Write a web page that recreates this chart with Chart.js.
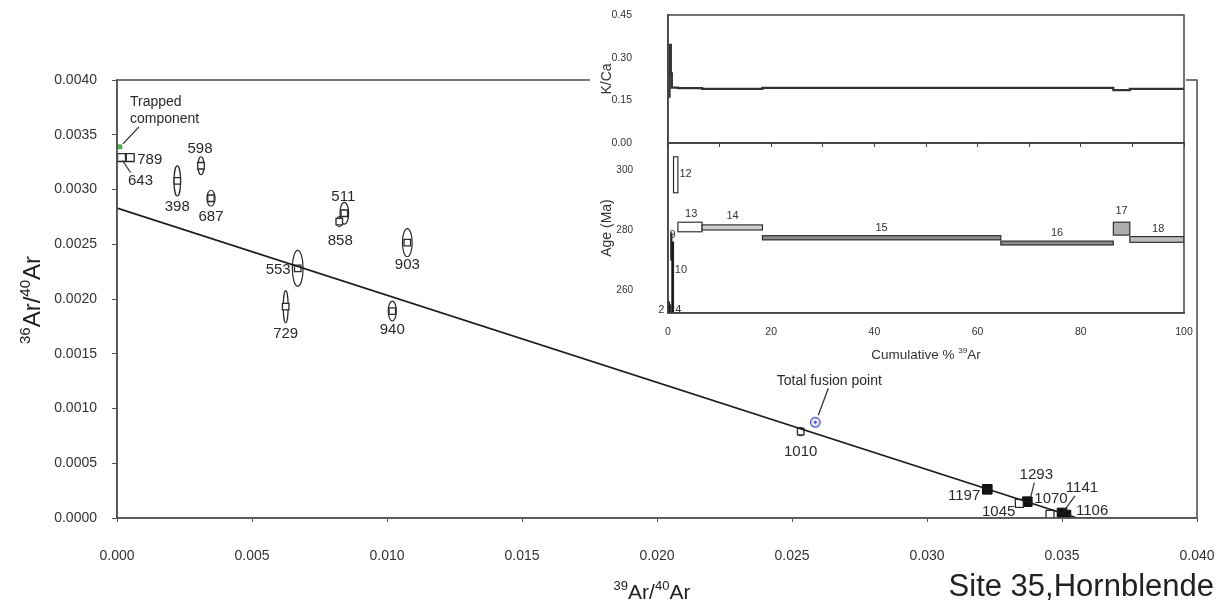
<!DOCTYPE html>
<html><head><meta charset="utf-8">
<script src="https://cdn.jsdelivr.net/npm/chart.js@4.4.1/dist/chart.umd.min.js"></script>
<style>
html,body{margin:0;padding:0;background:#fff;}
#wrap{position:relative;width:1219px;height:608px;overflow:hidden;background:#fff;}
#main{position:absolute;left:0;top:0;}
#insetBg{position:absolute;left:590px;top:0;width:596px;height:360px;background:#fff;}
#kca{position:absolute;left:590px;top:0;}
#age{position:absolute;left:590px;top:140px;}
</style></head>
<body><div id="wrap">
<canvas id="main" width="1219" height="608"></canvas>
<div id="insetBg"></div>
<canvas id="kca" width="596" height="150"></canvas>
<canvas id="age" width="612" height="225"></canvas>
</div>
<script>
// ===== DATA: isochron (main chart) =====
const stepTemps = ['643','789','598','398','687','511','858','903','553','729','940','1010','1197','1045','1293','1070','1141','1106'];
const ar39_40 = [0.000167,0.000490,0.003111,0.002233,0.003481,0.008419,0.008233,0.010752,0.006693,0.006248,0.010196,0.025322,0.032233,0.033419,0.033715,0.034556,0.035000,0.035148];
const ar36_40 = [0.003292,0.003292,0.003217,0.003078,0.002920,0.002783,0.002706,0.002514,0.002280,0.001930,0.001890,0.000788,0.000262,0.000134,0.000149,0.000034,0.000046,0.000027];
const err39 = [0,0,0.00011,0.00012,0.00015,0.00016,0.00011,0.00018,0.00020,0.00009,0.00015,0.00011,0,0,0,0,0,0];
const err36 = [0,0,0.000082,0.000137,0.000073,0.000100,0.000046,0.000128,0.000164,0.000146,0.000091,0.000037,0,0,0,0,0,0];
const filledStep = [false,false,false,false,false,false,false,false,false,false,false,false,true,false,true,false,true,true];
const totalFusionX = [0.025863];
const totalFusionY = [0.000874];
const trappedX = [0.000110];
const trappedY = [0.003390];
const isochronX = [0, 0.03556];
const isochronY = [0.00283, 0];
const mainXTicks = ['0.000','0.005','0.010','0.015','0.020','0.025','0.030','0.035','0.040'];
const mainYTicks = ['0.0000','0.0005','0.0010','0.0015','0.0020','0.0025','0.0030','0.0035','0.0040'];

// ===== DATA: inset spectra =====
const specSteps = ['2','4','9','10','12','13','14','15','16','17','18'];
const cumStart = [0,0.3,0.55,0.75,1.07,1.92,6.6,18.3,64.5,86.3,89.5];
const cumEnd   = [0.3,0.55,0.75,1.07,1.92,6.6,18.3,64.5,86.3,89.5,100];
const ageLow   = [245,245,270,245,292.4,279.4,280.0,276.7,275.0,278.3,275.9];
const ageHigh  = [256,255,279,276,304.4,282.6,281.7,278.1,276.3,282.6,277.8];
const kcaValue = [0.163,0.345,0.245,0.195,0.195,0.193,0.190,0.194,0.194,0.186,0.190];
const insetXTicks = ['0','20','40','60','80','100'];
const kcaTicks = ['0.00','0.15','0.30','0.45'];
const ageTicks = ['260','280','300'];

// ===== STYLE (not data) =====
const FONT = '"Liberation Sans", Arial, Helvetica, sans-serif';
Chart.defaults.font.family = FONT;
const INK = '#2a2a2a';
const AXIS = '#555';
const labelStyle = {
  '643': {dx:19, dy:23, leader:[1,3,9,15]},
  '789': {dx:7, dy:2, align:'left'},
  '598': {dx:-1, dy:-17},
  '398': {dx:0, dy:26},
  '687': {dx:0, dy:19},
  '511': {dx:-1, dy:-16},
  '858': {dx:1, dy:19},
  '903': {dx:0, dy:22},
  '553': {dx:-7, dy:2, align:'right'},
  '729': {dx:0, dy:27},
  '940': {dx:0, dy:19},
  '1010': {dx:0, dy:20},
  '1197': {dx:-7, dy:7, align:'right'},
  '1045': {dx:-4, dy:9, align:'right'},
  '1293': {dx:9, dy:-27, leader:[3,-3,7,-19]},
  '1070': {dx:1, dy:-15},
  '1141': {dx:20, dy:-25, leader:[2,-2,13,-17]},
  '1106': {dx:10, dy:-4, align:'left'}
};
const boxFill = ['#111','#111','#111','#111','#fff','#fff','#cfcfcf','#8c8c8c','#8c8c8c','#adadad','#bdbdbd'];
const specLabelPos = {
  '2':[-1.3,253.5],'4':[2.0,253.5],'9':[0.9,278.2],'10':[2.5,266.7],'12':[3.4,298.7],
  '13':[4.5,285.2],'14':[12.5,284.6],'15':[41.4,280.8],'16':[75.4,279.1],'17':[87.9,286.2],'18':[95,280.4]
};

// fixes a scale's box size and removes the automatic label padding it asks the layout for
function fixBox(w, h){
  return (s)=>{
    if(w!=null) s.width = w;
    if(h!=null) s.height = h;
    s.paddingTop = 0; s.paddingBottom = 0; s.paddingLeft = 0; s.paddingRight = 0;
  };
}

// draws text with superscript parts: parts = [[text, isSup], ...], centred on (cx, cy)
function drawSupText(ctx, parts, cx, cy, size, rot){
  const supSize = Math.round(size*0.62);
  const widths = parts.map(([t,s])=>{ ctx.font = (s?supSize:size)+'px '+FONT; return ctx.measureText(t).width; });
  const total = widths.reduce((a,b)=>a+b,0);
  ctx.save();
  ctx.translate(cx, cy); ctx.rotate(rot||0);
  ctx.textAlign='left'; ctx.textBaseline='alphabetic';
  let x = -total/2; const base = size*0.36;
  parts.forEach(([t,s],i)=>{
    ctx.font = (s?supSize:size)+'px '+FONT;
    ctx.fillText(t, x, s ? base - size*0.42 : base);
    x += widths[i];
  });
  ctx.restore();
}

// ===== MAIN CHART =====
const mainPlugin = {
  id:'mainDecor',
  beforeDatasetsDraw(chart){
    const {ctx, scales:{x,y}} = chart;
    ctx.save();
    ctx.strokeStyle = INK; ctx.lineWidth = 1.2;
    ar39_40.forEach((v,i)=>{
      if(!err36[i]) return;
      const cx = x.getPixelForValue(v), cy = y.getPixelForValue(ar36_40[i]);
      const rx = Math.abs(x.getPixelForValue(v+err39[i])-cx);
      const ry = Math.abs(y.getPixelForValue(ar36_40[i]+err36[i])-cy);
      ctx.beginPath(); ctx.ellipse(cx,cy,rx,ry,0,0,Math.PI*2); ctx.stroke();
    });
    ctx.restore();
  },
  afterDatasetsDraw(chart){
    const {ctx, chartArea:a, scales:{x,y}} = chart;
    ctx.save();
    ctx.strokeStyle = AXIS; ctx.lineWidth = 1.6;
    ctx.strokeRect(a.left, a.top, a.right-a.left, a.bottom-a.top);
    ctx.fillStyle = INK; ctx.strokeStyle = INK; ctx.lineWidth = 1.2;
    ctx.font = '15px '+FONT; ctx.textBaseline = 'middle';
    stepTemps.forEach((t,i)=>{
      const s = labelStyle[t]; if(!s) return;
      const px = x.getPixelForValue(ar39_40[i]), py = y.getPixelForValue(ar36_40[i]);
      ctx.textAlign = s.align || 'center';
      ctx.fillText(t, px+s.dx, py+s.dy);
      if(s.leader){
        ctx.beginPath(); ctx.moveTo(px+s.leader[0], py+s.leader[1]); ctx.lineTo(px+s.leader[2], py+s.leader[3]); ctx.stroke();
      }
    });
    // trapped component
    const tx = x.getPixelForValue(trappedX[0]), ty = y.getPixelForValue(trappedY[0]);
    ctx.font = '14px '+FONT; ctx.textAlign = 'left';
    ctx.fillText('Trapped', tx+10, ty-45);
    ctx.fillText('component', tx+10, ty-28);
    ctx.beginPath(); ctx.moveTo(tx+19, ty-20); ctx.lineTo(tx+3, ty-3); ctx.stroke();
    // total fusion point
    const fx = x.getPixelForValue(totalFusionX[0]), fy = y.getPixelForValue(totalFusionY[0]);
    ctx.textAlign = 'center';
    ctx.fillText('Total fusion point', fx+14, fy-41);
    ctx.beginPath(); ctx.moveTo(fx+13, fy-34); ctx.lineTo(fx+3, fy-7); ctx.stroke();
    ctx.fillStyle = '#4a4ac8';
    ctx.beginPath(); ctx.arc(fx, fy, 1.4, 0, Math.PI*2); ctx.fill();
    ctx.restore();
  },
  afterDraw(chart){
    const {ctx} = chart;
    ctx.save();
    ctx.fillStyle = '#222';
    drawSupText(ctx, [['36',true],['Ar/',false],['40',true],['Ar',false]], 31, 300, 24, -Math.PI/2);
    drawSupText(ctx, [['39',true],['Ar/',false],['40',true],['Ar',false]], 652, 591, 21, 0);
    ctx.font = '31px '+FONT; ctx.textAlign = 'right'; ctx.textBaseline = 'middle';
    ctx.fillText('Site 35,Hornblende', 1214, 587);
    ctx.restore();
  }
};

const openPts = [], filledPts = [], openR = [];
ar39_40.forEach((v,i)=>{
  const p = {x:v, y:ar36_40[i]};
  if(filledStep[i]) filledPts.push(p); else { openPts.push(p); openR.push(err36[i] ? 4.6 : 5.6); }
});

new Chart(document.getElementById('main'), {
  type:'scatter',
  data:{datasets:[
    {type:'line', data:isochronX.map((v,i)=>({x:v,y:isochronY[i]})), borderColor:'#1a1a1a', borderWidth:1.6, pointRadius:0, fill:false},
    {data:openPts, pointStyle:'rect', pointRadius:openR, backgroundColor:'#fff', borderColor:INK, borderWidth:1.3},
    {data:filledPts, pointStyle:'rect', pointRadius:6.8, backgroundColor:'#111', borderColor:'#111', borderWidth:1},
    {data:totalFusionX.map((v,i)=>({x:v,y:totalFusionY[i]})), pointStyle:'circle', pointRadius:4.8, backgroundColor:'rgba(170,170,240,0.3)', borderColor:'#5c5cd0', borderWidth:1.4},
    {data:trappedX.map((v,i)=>({x:v,y:trappedY[i]})), pointStyle:'rect', pointRadius:2.6, backgroundColor:'#5cb85c', borderColor:'#3a9a3a', borderWidth:1}
  ]},
  options:{
    responsive:false, animation:false, events:[],
    layout:{autoPadding:false, padding:{left:0,top:80,right:22,bottom:0}},
    plugins:{legend:{display:false}, tooltip:{enabled:false}},
    scales:{
      x:{type:'linear', min:0, max:0.04,
        ticks:{stepSize:0.005, color:'#333', font:{size:14}, padding:26,
          callback:(v)=>mainXTicks[Math.round(v/0.005)]},
        grid:{drawOnChartArea:false, drawTicks:true, tickLength:4, color:AXIS},
        border:{display:true, color:AXIS, width:1.6},
        title:{display:false},
        afterFit:fixBox(null,90)},
      y:{type:'linear', min:0, max:0.004,
        ticks:{stepSize:0.0005, color:'#333', font:{size:14}, padding:15,
          callback:(v)=>mainYTicks[Math.round(v/0.0005)]},
        grid:{drawOnChartArea:false, drawTicks:true, tickLength:5, color:AXIS},
        border:{display:true, color:AXIS, width:1.6},
        title:{display:false},
        afterFit:fixBox(117,null)}
    }
  },
  plugins:[mainPlugin]
});

// ===== INSET: K/Ca =====
const framePlugin = {
  id:'frame',
  afterDatasetsDraw(chart){
    const {ctx, chartArea:a} = chart;
    ctx.save(); ctx.strokeStyle = '#444'; ctx.lineWidth = 1.5;
    ctx.strokeRect(a.left, a.top, a.right-a.left, a.bottom-a.top);
    ctx.restore();
  }
};
const kcaPts = cumStart.map((v,i)=>({x:v, y:kcaValue[i]}));
kcaPts.push({x:100, y:kcaValue[kcaValue.length-1]});
new Chart(document.getElementById('kca'), {
  type:'scatter',
  data:{datasets:[{type:'line', data:kcaPts, stepped:true, borderColor:'#333', borderWidth:2.2, pointRadius:0, fill:false}]},
  options:{
    responsive:false, animation:false, events:[],
    layout:{autoPadding:false, padding:{left:0,top:15,right:2,bottom:0}},
    plugins:{legend:{display:false}, tooltip:{enabled:false}},
    scales:{
      x:{type:'linear', min:0, max:100, ticks:{display:false, stepSize:10},
        grid:{drawOnChartArea:false, drawTicks:true, tickLength:4, color:'#444'},
        border:{display:true, color:'#444', width:1.5},
        afterFit:fixBox(null,7)},
      y:{type:'linear', min:0, max:0.45,
        afterBuildTicks:(s)=>{s.ticks=[0,0.15,0.30,0.45].map(v=>({value:v}));},
        ticks:{color:'#333', font:{size:10.5}, padding:36, callback:(v)=>kcaTicks[Math.round(v/0.15)]},
        grid:{drawOnChartArea:false, drawTicks:false},
        border:{display:true, color:'#444', width:1.5},
        title:{display:true, text:'K/Ca', color:'#333', font:{size:14}, padding:{top:9,bottom:0}},
        afterFit:fixBox(78,null)}
    }
  },
  plugins:[framePlugin]
});

// ===== INSET: Age spectrum =====
const agePlugin = {
  id:'ageBoxes',
  afterDatasetsDraw(chart){
    const {ctx, chartArea:a, scales:{x,y}} = chart;
    ctx.save();
    ctx.beginPath(); ctx.rect(a.left, a.top, a.right-a.left, a.bottom-a.top); ctx.clip();
    specSteps.forEach((s,i)=>{
      const x0 = x.getPixelForValue(cumStart[i]), x1 = x.getPixelForValue(cumEnd[i]);
      const y0 = y.getPixelForValue(ageHigh[i]), y1 = y.getPixelForValue(ageLow[i]);
      ctx.fillStyle = boxFill[i]; ctx.fillRect(x0, y0, x1-x0, y1-y0);
      ctx.strokeStyle = '#222'; ctx.lineWidth = 1.1; ctx.strokeRect(x0, y0, x1-x0, y1-y0);
    });
    ctx.restore();
    ctx.save();
    ctx.strokeStyle = '#444'; ctx.lineWidth = 1.5;
    ctx.strokeRect(a.left, a.top, a.right-a.left, a.bottom-a.top);
    ctx.fillStyle = '#333'; ctx.font = '11px '+FONT; ctx.textAlign='center'; ctx.textBaseline='middle';
    specSteps.forEach((s)=>{
      const p = specLabelPos[s];
      ctx.fillText(s, x.getPixelForValue(p[0]), y.getPixelForValue(p[1]));
    });
    drawSupText(ctx, [['Cumulative % ',false],['39',true],['Ar',false]], (a.left+a.right)/2, 214, 13.5, 0);
    ctx.restore();
  }
};
new Chart(document.getElementById('age'), {
  type:'scatter',
  data:{datasets:[]},
  options:{
    responsive:false, animation:false, events:[],
    layout:{autoPadding:false, padding:{left:0,top:3,right:18,bottom:0}},
    plugins:{legend:{display:false}, tooltip:{enabled:false}},
    scales:{
      x:{type:'linear', min:0, max:100,
        ticks:{stepSize:20, color:'#333', font:{size:10.5}, padding:13, callback:(v)=>insetXTicks[Math.round(v/20)]},
        grid:{drawOnChartArea:false, drawTicks:false},
        border:{display:true, color:'#444', width:1.5},
        title:{display:false},
        afterFit:fixBox(null,52)},
      y:{type:'linear', min:252.33, max:309,
        afterBuildTicks:(s)=>{s.ticks=[260,280,300].map(v=>({value:v}));},
        ticks:{color:'#333', font:{size:10}, padding:35, callback:(v)=>ageTicks[Math.round((v-260)/20)]},
        grid:{drawOnChartArea:false, drawTicks:false},
        border:{display:true, color:'#444', width:1.5},
        title:{display:true, text:'Age (Ma)', color:'#333', font:{size:14}, padding:{top:9,bottom:0}},
        afterFit:fixBox(78,null)}
    }
  },
  plugins:[agePlugin]
});
</script>
</body></html>
